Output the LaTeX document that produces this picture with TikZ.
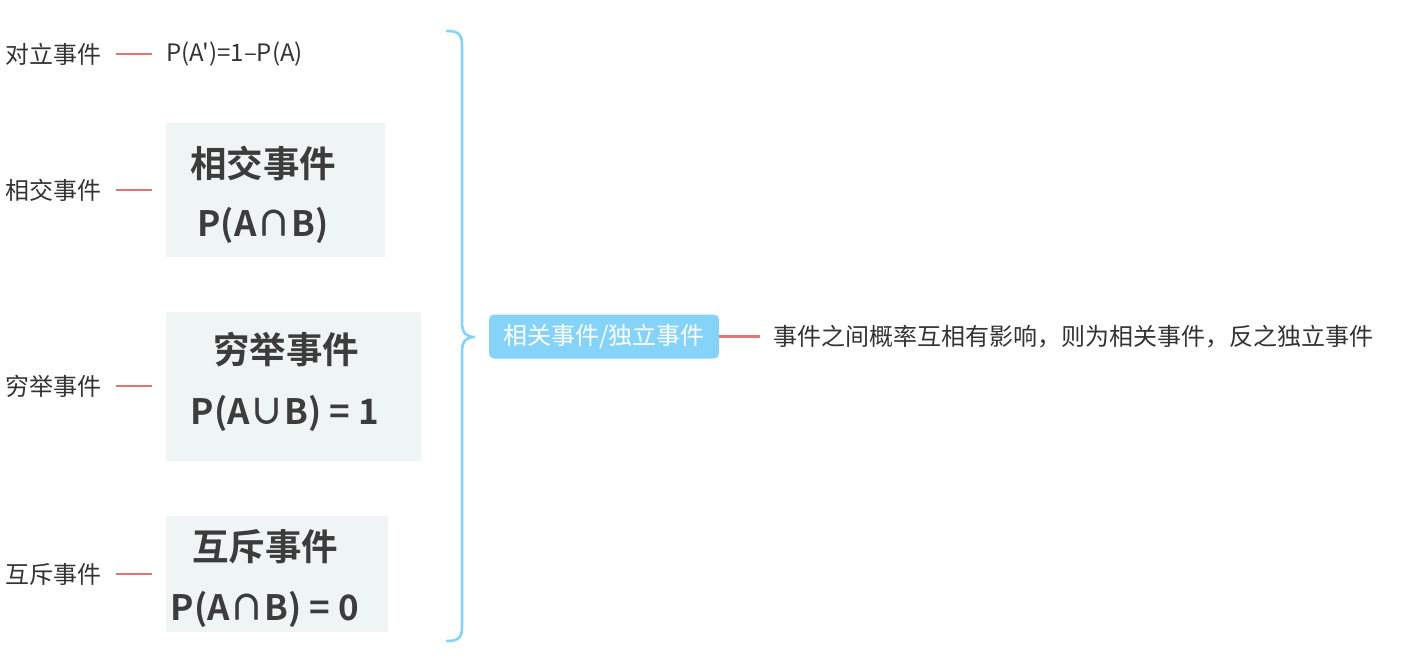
\documentclass[tikz,border=0pt]{standalone}
\usepackage{fontspec}
\newfontfamily\cjk{Noto Sans CJK SC}
\newfontfamily\cjkb{Noto Sans CJK SC Bold}
\definecolor{linkred}{HTML}{E57575}
\definecolor{brblue}{HTML}{86D3FA}
\definecolor{boxbg}{HTML}{EFF5F4}
\definecolor{txt}{HTML}{333333}
\definecolor{boxtxt}{HTML}{3C3C3C}
\begin{document}
\begin{tikzpicture}[x=1pt,y=-1pt,
  lab/.style={inner sep=0pt,anchor=west,text=txt,font=\cjk\fontsize{24}{28}\selectfont},
  link/.style={draw=linkred,line width=2.6pt},
  imgbox/.style={fill=boxbg,draw=none,inner sep=0pt},
  btitle/.style={inner sep=0pt,text=boxtxt,font=\cjkb\fontsize{36.5}{40}\selectfont},
  bform/.style={inner sep=0pt,text=boxtxt,font=\cjkb\fontsize{35}{40}\selectfont},
  brace/.style={draw=brblue,line width=2.6pt,line cap=round},
  central/.style={fill=brblue,rounded corners=5pt,text=white,inner sep=0pt,minimum width=230pt,minimum height=44pt,font=\cjk\fontsize{24}{28}\selectfont}]
\useasboundingbox (0,0) rectangle (1402,660);
% left labels
\node[lab] (l1) at (5,54) {对立事件};
\node[lab] (l2) at (5,190) {相交事件};
\node[lab] (l3) at (5,386) {穷举事件};
\node[lab] (l4) at (5,574) {互斥事件};
% first row text
\node[lab] (f1) at (166,54) {P(A')=1–P(A)};
% boxes
\node[imgbox,minimum width=219pt,minimum height=134pt] (b1) at (275.5,190) {};
\node[imgbox,minimum width=255pt,minimum height=149pt] (b2) at (293.5,386.5) {};
\node[imgbox,minimum width=222pt,minimum height=116pt] (b3) at (277,574) {};
\node[btitle] (t1) at (263,163) {相交事件};
\node[bform] (p1) at (263,225) {P(A∩B)};
\node[btitle] (t2) at (286,350) {穷举事件};
\node[bform] (p2) at (285,413) {P(A∪B) = 1};
\node[btitle] (t3) at (265,547) {互斥事件};
\node[bform] (p3) at (265,609) {P(A∩B) = 0};
% links
\draw[link] ([xshift=15pt]l1.east) -- ([xshift=-14pt]f1.west |- l1.east);
\draw[link] ([xshift=15pt]l2.east) -- ([xshift=-14pt]b1.west |- l2.east);
\draw[link] ([xshift=15pt]l3.east) -- ([xshift=-14pt]b2.west |- l3.east);
\draw[link] ([xshift=15pt]l4.east) -- ([xshift=-14pt]b3.west |- l4.east);
% brace
\coordinate (tip) at (475,337);
\coordinate (btop) at (447,31);
\coordinate (bbot) at (447,641);
\draw[brace] (btop) .. controls (459,31) and (462,35) .. (462,45) -- (462,322)
  .. controls (462,333) and (466,337) .. (tip)
  .. controls (466,337) and (462,341) .. (462,352) -- (462,627)
  .. controls (462,637) and (459,641) .. (bbot);
% central node
\node[central] (c) at (604,336.5) {相关事件/独立事件};
\node[lab] (d) at (773,336.5) {事件之间概率互相有影响，则为相关事件，反之独立事件};
\draw[link] (c.east) -- ([xshift=-13pt]d.west |- c.east);
\end{tikzpicture}
\end{document}
